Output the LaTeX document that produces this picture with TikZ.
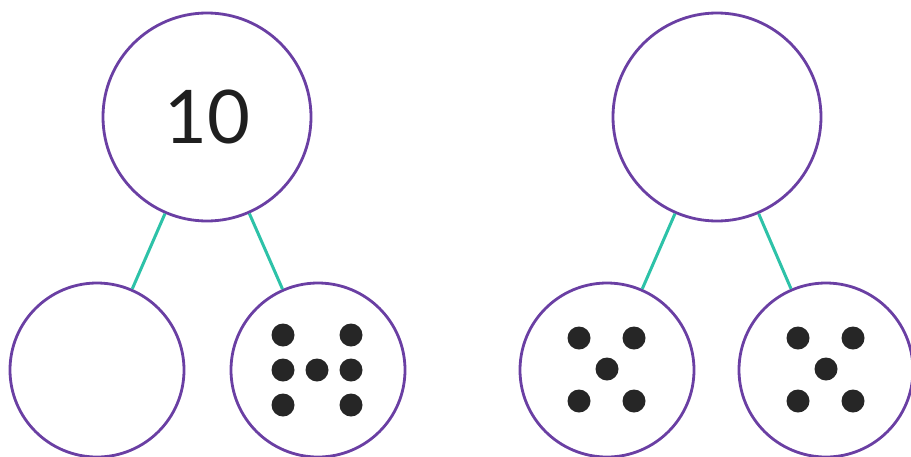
\documentclass[tikz,border=0pt]{standalone}
\usepackage{fontspec}
\setmainfont{Lato}
\usetikzlibrary{positioning}
\definecolor{ringpurple}{HTML}{6A3FA3}
\definecolor{linkteal}{HTML}{2DC2A8}

\begin{document}
\begin{tikzpicture}[x=1pt,y=-1pt,
  whole/.style={circle, draw=ringpurple, line width=2.8pt, minimum size=208pt, inner sep=0pt, text=black!88, font=\fontsize{74}{74}\selectfont},
  part/.style={circle, draw=ringpurple, line width=2.8pt, minimum size=174pt, inner sep=0pt},
  dot/.style={circle, fill=black!85, minimum size=23pt, inner sep=0pt},
  link/.style={draw=linkteal, line width=3pt}]
  \useasboundingbox (0,0) rectangle (911,456);

  %% whole circles
  \node[whole] (w1) at (207,117) {10};
  \node[whole] (w2) at (717,117) {};

  %% part circles
  \foreach \n/\x in {a1/97,b1/318,a2/607,b2/826}
    \node[part] (p\n) at (\x,370) {};

  %% links
  \foreach \w in {1,2}
    \foreach \p in {a,b}
      \draw[link] (w\w) -- (p\p\w);

  %% dots for six
  \foreach \dx/\dy [count=\i] in {-35/-35,33/-35,-35/0,-1/0,33/0,-35/35,33/35}
    \node[dot] (s\i) at ([shift={(\dx,\dy)}]pb1.center) {};

  %% dots for five
  \foreach \q in {a2,b2}
    \foreach \dx/\dy [count=\i] in {-28/-32,27/-32,0/-1,-28/31,27/31}
      \node[dot] (f\q\i) at ([shift={(\dx,\dy)}]p\q.center) {};

\end{tikzpicture}
\end{document}
